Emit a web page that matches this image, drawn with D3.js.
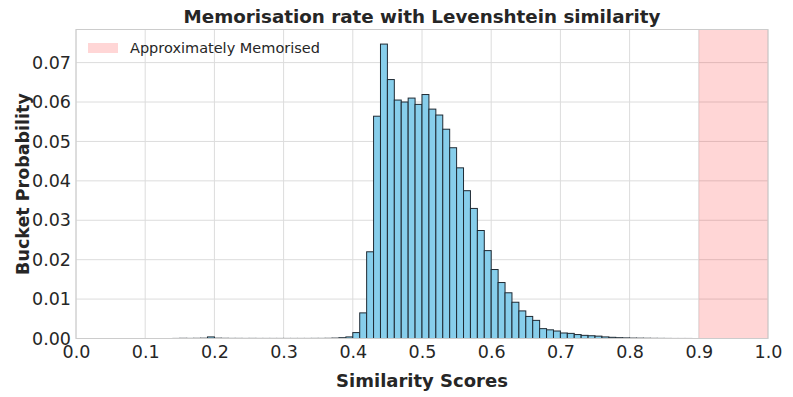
<!DOCTYPE html>
<html>
<head>
<meta charset="utf-8">
<script src="https://cdn.jsdelivr.net/npm/d3@7"></script>
<style>
  body { margin: 0; background: #fff; }
  text { font-family: "DejaVu Sans", sans-serif; fill: #262626; }
</style>
</head>
<body>
<div id="chart"></div>
<script>
// histogram buckets (left edge of each 0.01 bin) and probabilities
var binStarts = [0.14, 0.15, 0.16, 0.17, 0.18, 0.19, 0.20, 0.21, 0.22, 0.23, 0.24, 0.25,
  0.26, 0.27, 0.28, 0.29, 0.30, 0.31, 0.32, 0.33, 0.34, 0.35, 0.36, 0.37, 0.38, 0.39,
  0.40, 0.41, 0.42, 0.43, 0.44, 0.45, 0.46, 0.47, 0.48, 0.49, 0.50, 0.51, 0.52, 0.53,
  0.54, 0.55, 0.56, 0.57, 0.58, 0.59, 0.60, 0.61, 0.62, 0.63, 0.64, 0.65, 0.66, 0.67,
  0.68, 0.69, 0.70, 0.71, 0.72, 0.73, 0.74, 0.75, 0.76, 0.77, 0.78, 0.79, 0.80, 0.81,
  0.82, 0.83, 0.84, 0.85, 0.86, 0.87, 0.88];
var probs = [0.00002, 0.00005, 0.00003, 0.00005, 0.00008, 0.0004, 0.00008, 0.00005, 0.00003, 0.00003, 0.00002, 0.00003,
  0.00002, 0.00002, 0.00002, 0.00002, 0.00002, 0.00002, 0.00002, 0.00002, 0.00003, 0.00003, 0.00005, 0.0001, 0.0002, 0.0004,
  0.0015, 0.0065, 0.022, 0.0564, 0.0747, 0.0657, 0.0605, 0.0600, 0.0610, 0.0594, 0.0619, 0.0582, 0.0567, 0.0531,
  0.0484, 0.0433, 0.0375, 0.0330, 0.0274, 0.0223, 0.0175, 0.0142, 0.0116, 0.0092, 0.0070, 0.0056, 0.0046, 0.0025,
  0.0022, 0.0019, 0.0014, 0.0013, 0.0010, 0.0008, 0.0007, 0.0006, 0.0004, 0.0003, 0.0002, 0.00015, 0.0001, 0.00008,
  0.00006, 0.00004, 0.00003, 0.00002, 0.00001, 0.00001, 0.00001];
var binWidth = 0.01;

var xTicks = [0, 0.1, 0.2, 0.3, 0.4, 0.5, 0.6, 0.7, 0.8, 0.9, 1.0];
var yTicks = [0, 0.01, 0.02, 0.03, 0.04, 0.05, 0.06, 0.07];
var spanRange = [0.9, 1.0];
var legendLabel = "Approximately Memorised";

var svgWidth = 793;
var svgHeight = 397;
var margin = { top: 29.5, right: 25, bottom: 58.5, left: 76 };
var width = svgWidth - margin.left - margin.right;
var height = svgHeight - margin.top - margin.bottom;

var svg = d3.select("#chart")
  .append("svg")
  .attr("width", svgWidth)
  .attr("height", svgHeight);

var chartGroup = svg.append("g")
  .attr("transform", `translate(${margin.left}, ${margin.top})`);

var x = d3.scaleLinear().domain([0, 1]).range([0, width]);
var y = d3.scaleLinear().domain([0, 0.0784]).range([height, 0]);

// grid lines
chartGroup.append("g")
  .selectAll("line.vg")
  .data(xTicks)
  .enter()
  .append("line")
  .attr("x1", d => x(d)).attr("x2", d => x(d))
  .attr("y1", 0).attr("y2", height)
  .attr("stroke", "#dcdcdc")
  .attr("stroke-width", 1);

chartGroup.append("g")
  .selectAll("line.hg")
  .data(yTicks)
  .enter()
  .append("line")
  .attr("x1", 0).attr("x2", width)
  .attr("y1", d => y(d)).attr("y2", d => y(d))
  .attr("stroke", "#dcdcdc")
  .attr("stroke-width", 1);

// memorised span
chartGroup.append("rect")
  .attr("x", x(spanRange[0]))
  .attr("y", 0)
  .attr("width", x(spanRange[1]) - x(spanRange[0]))
  .attr("height", height)
  .attr("fill", "#ff0000")
  .attr("fill-opacity", 0.16);

// histogram bars
chartGroup.append("g")
  .selectAll("rect")
  .data(binStarts)
  .enter()
  .append("rect")
  .attr("x", d => x(d))
  .attr("width", x(binWidth) - x(0))
  .attr("y", (d, i) => y(probs[i]))
  .attr("height", (d, i) => height - y(probs[i]))
  .attr("fill", "#87ceeb")
  .attr("stroke", "#1f2a33")
  .attr("stroke-width", 1);

// frame
chartGroup.append("rect")
  .attr("width", width)
  .attr("height", height)
  .attr("fill", "none")
  .attr("stroke", "#cccccc")
  .attr("stroke-width", 1);

// axes
var xAxis = chartGroup.append("g")
  .attr("transform", `translate(0, ${height})`)
  .call(d3.axisBottom(x).tickValues(xTicks).tickFormat(d3.format(".1f")).tickSize(0).tickPadding(7));
var yAxis = chartGroup.append("g")
  .call(d3.axisLeft(y).tickValues(yTicks).tickFormat(d3.format(".2f")).tickSize(0).tickPadding(5));

[xAxis, yAxis].forEach(function(a) {
  a.select(".domain").remove();
  a.selectAll("text")
    .style("font-family", "'DejaVu Sans', sans-serif")
    .style("font-size", "17.5px")
    .attr("fill", "#262626");
});

// title and labels
svg.append("text")
  .attr("x", margin.left + width / 2)
  .attr("y", 23)
  .attr("text-anchor", "middle")
  .style("font-size", "18.3px")
  .style("font-weight", "bold")
  .text("Memorisation rate with Levenshtein similarity");

svg.append("text")
  .attr("x", margin.left + width / 2)
  .attr("y", 387)
  .attr("text-anchor", "middle")
  .style("font-size", "18px")
  .style("font-weight", "bold")
  .text("Similarity Scores");

svg.append("text")
  .attr("transform", "rotate(-90)")
  .attr("x", -(margin.top + height / 2))
  .attr("y", 29)
  .attr("text-anchor", "middle")
  .style("font-size", "17.5px")
  .style("font-weight", "bold")
  .text("Bucket Probability");

// legend
var legend = chartGroup.append("g")
  .attr("transform", "translate(12, 13.5)");
legend.append("rect")
  .attr("width", 30)
  .attr("height", 10)
  .attr("fill", "#ff0000")
  .attr("fill-opacity", 0.16);
legend.append("text")
  .attr("x", 42)
  .attr("y", 10)
  .style("font-size", "14.5px")
  .text(legendLabel);
</script>
</body>
</html>
